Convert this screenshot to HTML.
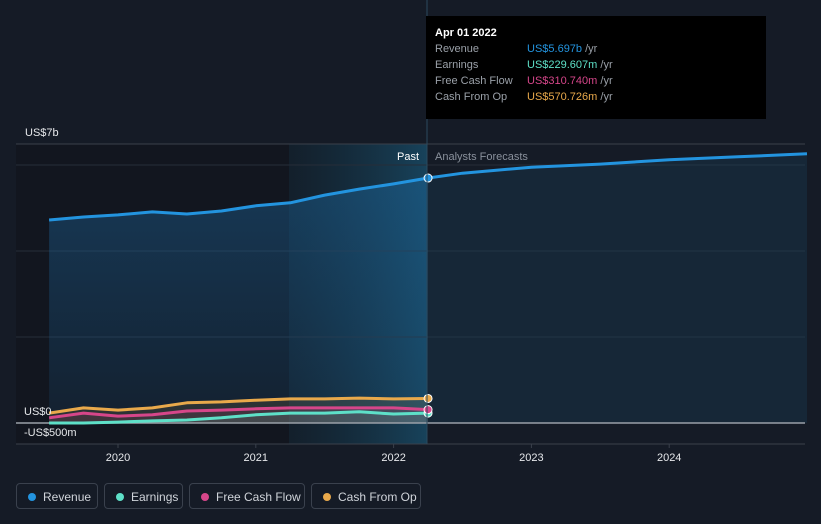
<!DOCTYPE html>
<html><head><meta charset="utf-8"><style>
body{margin:0;background:#151b26;font-family:"Liberation Sans",sans-serif;}
#wrap{position:relative;width:821px;height:524px;overflow:hidden}
.leg{position:absolute;top:483px;height:26px;border:1px solid #3a414d;border-radius:4px;color:#d0d4da;font-size:12px;line-height:26px;box-sizing:border-box;padding-left:26px}
.leg i{position:absolute;left:11px;top:9px;width:8px;height:8px;border-radius:50%}
</style></head><body><div id="wrap">
<svg id="svg" width="821" height="524" style="position:absolute;left:0;top:0">
<defs>
<linearGradient id="pastg" x1="0" x2="1"><stop offset="0" stop-color="#0f2a38" stop-opacity="0.3"/><stop offset="1" stop-color="#1a6a90" stop-opacity="0.5"/></linearGradient>
<linearGradient id="revg" x1="0" y1="0" x2="0" y2="1"><stop offset="0" stop-color="#1d6da8" stop-opacity="0.4"/><stop offset="1" stop-color="#1d6da8" stop-opacity="0.12"/></linearGradient>
</defs>
<rect x="16" y="144" width="273" height="300" fill="#12161f"/>
<rect x="289" y="144" width="138" height="300" fill="url(#pastg)"/>
<g id="grid"></g>
<g id="marks"></g>
<text x="25" y="136" fill="#e6e8eb" font-size="11">US$7b</text>
<text x="24" y="415" fill="#e6e8eb" font-size="11">US$0</text>
<text x="24" y="436" fill="#e6e8eb" font-size="11">-US$500m</text>
<text x="419" y="160" fill="#ffffff" font-size="11" text-anchor="end">Past</text>
<text x="435" y="160" fill="#8a919c" font-size="11">Analysts Forecasts</text>
<line x1="427" y1="0" x2="427" y2="444" stroke="#2a4a5e" stroke-width="1"/>
<g id="xt"></g>
</svg>
<div style="position:absolute;left:426px;top:16px;width:340px;height:103px;background:#000;font-size:11px;line-height:16px">
<div style="position:absolute;left:9px;top:9px;color:#fff;font-weight:bold">Apr 01 2022</div>
<div style="position:absolute;left:9px;top:25px;color:#9aa0a8">Revenue<br>Earnings<br>Free Cash Flow<br>Cash From Op</div>
<div style="position:absolute;left:101px;top:25px;color:#9aa0a8"><span style="color:#2394df">US$5.697b</span> /yr<br><span style="color:#5ee0c8">US$229.607m</span> /yr<br><span style="color:#d6468a">US$310.740m</span> /yr<br><span style="color:#e9a94b">US$570.726m</span> /yr</div>
</div>
<div class="leg" style="left:16px;width:82px"><i style="background:#2394df"></i>Revenue</div>
<div class="leg" style="left:104px;width:79px"><i style="background:#5ee0c8"></i>Earnings</div>
<div class="leg" style="left:189px;width:116px"><i style="background:#d6468a"></i>Free Cash Flow</div>
<div class="leg" style="left:311px;width:110px"><i style="background:#e9a94b"></i>Cash From Op</div>
</div>
<script>
const pastYears=[2019.5,2019.75,2020,2020.25,2020.5,2020.75,2021,2021.25,2021.5,2021.75,2022,2022.25];
const revenue=[4.72,4.79,4.84,4.91,4.86,4.93,5.05,5.12,5.30,5.44,5.56,5.697];
const earnings=[0.0,0.0,0.02,0.05,0.07,0.12,0.19,0.23,0.23,0.26,0.21,0.2296];
const fcf=[0.12,0.23,0.16,0.19,0.28,0.30,0.33,0.35,0.35,0.35,0.35,0.3107];
const cfo=[0.23,0.35,0.30,0.35,0.47,0.49,0.53,0.56,0.56,0.58,0.56,0.5707];
const fcYears=[2022.25,2022.5,2023,2023.5,2024,2024.5,2025];
const fcRevenue=[5.697,5.81,5.95,6.02,6.12,6.19,6.26];
const xTicks=[2020,2021,2022,2023,2024];
const gridVals=[6.0,4.0,2.0];
const X=t=>118+(t-2020)*137.8;
const Y=v=>423-v*43;
const NS='http://www.w3.org/2000/svg';
function mk(tag,attrs,parent){const e=document.createElementNS(NS,tag);for(const k in attrs)e.setAttribute(k,attrs[k]);parent.appendChild(e);return e;}
const grid=document.getElementById('grid'),marks=document.getElementById('marks'),xt=document.getElementById('xt');
let g=mk('line',{x1:16,x2:805,y1:144,y2:144,stroke:'#3a404b'},grid);


gridVals.forEach(v=>{const l=mk('line',{x1:16,x2:805,y1:Y(v),y2:Y(v),stroke:'#262d38'},grid);

});
let b=mk('line',{x1:16,x2:805,y1:444,y2:444,stroke:'#3a404b'},grid);


function path(xs,vs){return xs.map((t,i)=>(i?'L':'M')+X(t).toFixed(1)+','+Y(vs[i]).toFixed(1)).join('');}
function area(xs,vs){return path(xs,vs)+'L'+X(xs[xs.length-1])+','+Y(0)+'L'+X(xs[0])+','+Y(0)+'Z';}
let a=mk('path',{d:area(pastYears,revenue),fill:'url(#revg)'},marks);


let a2=mk('path',{d:area(fcYears,fcRevenue),fill:'#1d4a6a',opacity:0.25},marks);


[[cfo,'#e9a94b','cash-from-op'],[fcf,'#d6468a','free-cash-flow'],[earnings,'#5ee0c8','earnings']].forEach(([d,c,n])=>{
const ar=mk('path',{d:area(pastYears,d),fill:c,opacity:0.12},marks);

});
let z=mk('line',{x1:16,x2:805,y1:Y(0),y2:Y(0),stroke:'#9aa0a8','stroke-width':1.5},marks);


const series=[[revenue,'#2394df','revenue'],[earnings,'#5ee0c8','earnings'],[fcf,'#d6468a','free-cash-flow'],[cfo,'#e9a94b','cash-from-op']];
series.forEach(([d,c,n])=>{const p=mk('path',{d:path(pastYears,d),fill:'none',stroke:c,'stroke-width':3,'stroke-linejoin':'round'},marks);

});
let f=mk('path',{d:path(fcYears,fcRevenue),fill:'none',stroke:'#2394df','stroke-width':3},marks);


[[earnings,'#5ee0c8','earnings'],[fcf,'#d6468a','free-cash-flow'],[cfo,'#e9a94b','cash-from-op'],[revenue,'#2394df','revenue']].forEach(([d,c,n])=>{
const i=pastYears.length-1;const ci=mk('circle',{cx:X(pastYears[i]),cy:Y(d[i]),r:4,fill:c,stroke:'#fff','stroke-width':1},marks);

});
xTicks.forEach(t=>{const l=mk('line',{x1:X(t),x2:X(t),y1:444,y2:448,stroke:'#3a404b'},xt);


const tx=mk('text',{x:X(t),y:461,fill:'#e6e8eb','font-size':11,'text-anchor':'middle'},xt);tx.textContent=t;

});
</script>
</body></html>
